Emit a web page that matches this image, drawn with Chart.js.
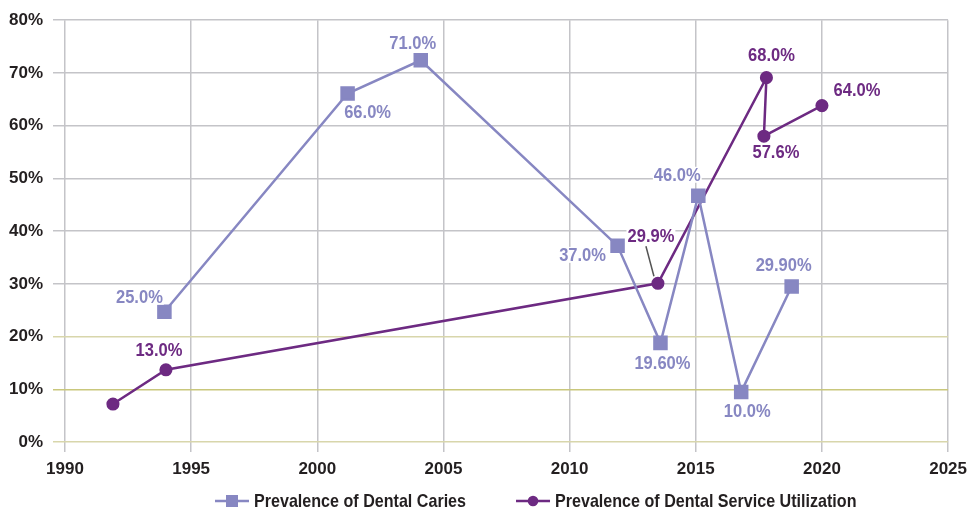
<!DOCTYPE html>
<html>
<head>
<meta charset="utf-8">
<script src="https://cdn.jsdelivr.net/npm/chart.js@4.4.1/dist/chart.umd.min.js"></script>
<style>
  html, body { margin: 0; padding: 0; background: #fff; }
  #wrap { width: 974px; height: 512px; }
</style>
</head>
<body>
<div id="wrap"><canvas id="chart" width="974" height="512"></canvas></div>
<script>
// Data
const cariesYears  = [1993.94, 2001.2, 2004.1, 2011.9, 2013.6, 2015.1, 2016.8, 2018.8];
const cariesValues = [24.7, 66.1, 72.4, 37.2, 18.8, 46.7, 9.5, 29.5];
const cariesText   = ['25.0%', '66.0%', '71.0%', '37.0%', '19.60%', '46.0%', '10.0%', '29.90%'];

const serviceYears  = [1991.9, 1994.0, 2013.5, 2017.8, 2017.7, 2020.0];
const serviceValues = [7.2, 13.7, 30.1, 69.1, 58.0, 63.8];
const serviceText   = ['', '13.0%', '29.9%', '68.0%', '57.6%', '64.0%'];

const xTicks = [1990, 1995, 2000, 2005, 2010, 2015, 2020, 2025];
const yTicks = [0, 10, 20, 30, 40, 50, 60, 70, 80];

// label placement relative to each point (dx, dy)
const cariesOffsets  = [[-25, -15], [20, 18], [-8, -18], [-35, 9], [2, 20], [-21, -21], [6, 19], [-8, -22]];
const serviceOffsets = [[0, 0], [-7, -20], [-7, -48], [5, -23], [12, 16], [35, -16]];
const serviceLeaders = [null, null, [-12, -37, -4, -7], null, null, null];

const FONT = "'Liberation Sans', Arial, sans-serif";
const CARIES_COLOR = '#8787c2';
const SERVICE_COLOR = '#6d2a82';
const TEXT_COLOR = '#231f20';
const SQUEEZE = 0.87; // mimic the condensed face of the original

function toPoints(xs, ys) {
    return xs.map((x, i) => ({ x: x, y: ys[i] }));
}

// value labels with a white box behind them
const pointLabels = {
    id: 'pointLabels',
    afterDatasetsDraw(chart) {
        const ctx = chart.ctx;
        ctx.save();
        ctx.font = 'bold 19px ' + FONT;
        ctx.textAlign = 'center';
        ctx.textBaseline = 'middle';
        chart.data.datasets.forEach((ds, di) => {
            const meta = chart.getDatasetMeta(di);
            meta.data.forEach((pt, i) => {
                const leader = ds.leaders && ds.leaders[i];
                if (leader) {
                    ctx.strokeStyle = '#555';
                    ctx.lineWidth = 1.5;
                    ctx.beginPath();
                    ctx.moveTo(pt.x + leader[0], pt.y + leader[1]);
                    ctx.lineTo(pt.x + leader[2], pt.y + leader[3]);
                    ctx.stroke();
                }
                const text = ds.pointText[i];
                if (!text) return;
                const x = pt.x + ds.textOffsets[i][0];
                const y = pt.y + ds.textOffsets[i][1];
                const w = ctx.measureText(text).width * SQUEEZE;
                ctx.fillStyle = '#fff';
                ctx.fillRect(x - w / 2 - 1, y - 8, w + 2, 16);
                ctx.save();
                ctx.translate(x, y + 1);
                ctx.scale(SQUEEZE, 1);
                ctx.fillStyle = ds.borderColor;
                ctx.fillText(text, 0, 0);
                ctx.restore();
            });
        });
        ctx.restore();
    }
};

// legend drawn under the axis: line + marker + bold label
const bottomLegend = {
    id: 'bottomLegend',
    afterDraw(chart) {
        const ctx = chart.ctx;
        const y = 501;
        let x = 215;
        ctx.save();
        ctx.font = 'bold 18.5px ' + FONT;
        ctx.textBaseline = 'middle';
        ctx.textAlign = 'left';
        chart.data.datasets.forEach(ds => {
            ctx.strokeStyle = ds.borderColor;
            ctx.lineWidth = 2.5;
            ctx.beginPath();
            ctx.moveTo(x, y);
            ctx.lineTo(x + 34, y);
            ctx.stroke();
            ctx.fillStyle = ds.borderColor;
            ctx.beginPath();
            if (ds.pointStyle === 'rect') {
                ctx.rect(x + 11, y - 6, 12, 12);
            } else {
                ctx.arc(x + 17, y, 5.3, 0, Math.PI * 2);
            }
            ctx.fill();
            ctx.save();
            ctx.translate(x + 39, y + 1);
            ctx.scale(SQUEEZE, 1);
            ctx.fillStyle = TEXT_COLOR;
            ctx.fillText(ds.label, 0, 0);
            ctx.restore();
            x += 39 + ctx.measureText(ds.label).width * SQUEEZE + 50;
        });
        ctx.restore();
    }
};

function gridColor(c) {
    const v = c.tick && c.tick.value;
    if (v === 10) return '#c9c77c';
    if (v === 0 || v === 20) return '#d8d6ab';
    return '#c4c4c8';
}

new Chart(document.getElementById('chart').getContext('2d'), {
    type: 'line',
    data: {
        datasets: [
            {
                label: 'Prevalence of Dental Caries',
                data: toPoints(cariesYears, cariesValues),
                pointText: cariesText,
                textOffsets: cariesOffsets,
                borderColor: CARIES_COLOR,
                backgroundColor: CARIES_COLOR,
                borderWidth: 2.5,
                pointStyle: 'rect',
                pointRadius: 8.5,
                pointHoverRadius: 8.5,
                tension: 0
            },
            {
                label: 'Prevalence of Dental Service Utilization',
                data: toPoints(serviceYears, serviceValues),
                pointText: serviceText,
                textOffsets: serviceOffsets,
                leaders: serviceLeaders,
                borderColor: SERVICE_COLOR,
                backgroundColor: SERVICE_COLOR,
                borderWidth: 2.5,
                pointStyle: 'circle',
                pointRadius: 5.3,
                pointHoverRadius: 5.3,
                tension: 0
            }
        ]
    },
    options: {
        responsive: false,
        animation: false,
        layout: { padding: { top: 20, right: 24, bottom: 30, left: 0 } },
        plugins: {
            legend: { display: false },
            tooltip: { enabled: false }
        },
        scales: {
            x: {
                type: 'linear',
                min: 1990,
                max: 2025,
                afterBuildTicks: s => { s.ticks = xTicks.map(v => ({ value: v })); },
                afterFit: s => { s.height = 40; },
                grid: { color: '#c4c4c8', lineWidth: 1.5, tickLength: 10 },
                border: { display: false },
                ticks: {
                    padding: 7,
                    color: TEXT_COLOR,
                    font: { family: FONT, size: 17, weight: 'bold' },
                    callback: v => String(v),
                    maxRotation: 0
                }
            },
            y: {
                min: 0,
                max: 80,
                afterBuildTicks: s => { s.ticks = yTicks.map(v => ({ value: v })); },
                afterFit: s => { s.width = 65; },
                grid: { color: gridColor, lineWidth: 1.5, tickLength: 12 },
                border: { display: false },
                ticks: {
                    padding: 10,
                    color: TEXT_COLOR,
                    font: { family: FONT, size: 17, weight: 'bold' },
                    callback: v => v + '%'
                }
            }
        }
    },
    plugins: [pointLabels, bottomLegend]
});
</script>
</body>
</html>
